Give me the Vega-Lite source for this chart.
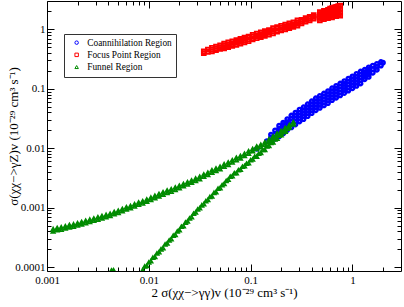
{
  "$schema": "https://vega.github.io/schema/vega-lite/v6.json",
  "width": 354,
  "height": 270,
  "autosize": {"type": "none"},
  "padding": {"left": 47, "top": 1, "right": 3, "bottom": 36},
  "background": "white",
  "config": {
    "view": {"stroke": "black", "strokeWidth": 1},
    "axis": {
      "domain": false,
      "grid": false,
      "labelFont": "Liberation Serif",
      "labelFontSize": 11,
      "labelColor": "black",
      "labelFlush": false,
      "labelOverlap": false,
      "labelBound": false,
      "tickColor": "black",
      "tickWidth": 1,
      "titleFont": "Liberation Serif",
      "titleFontSize": 13,
      "titleFontWeight": "normal",
      "titleColor": "black"
    },
    "legend": {
      "orient": "none",
      "legendX": 17,
      "legendY": 33,
      "title": null,
      "strokeColor": "#333333",
      "fillColor": "white",
      "padding": 4,
      "labelFont": "Liberation Serif",
      "labelFontSize": 9.3,
      "labelColor": "black",
      "symbolSize": 12,
      "symbolStrokeWidth": 1,
      "symbolOffset": 4,
      "labelOffset": 6,
      "rowPadding": 2.2
    }
  },
  "datasets": {
    "coann": [
      {"x":0.1445,"y":0.01318},
      {"x":0.1585,"y":0.01349},{"x":0.1585,"y":0.01514},{"x":0.1585,"y":0.01698},
      {"x":0.1738,"y":0.01445},{"x":0.1738,"y":0.01698},{"x":0.1738,"y":0.01995},
      {"x":0.1905,"y":0.01585},{"x":0.1905,"y":0.01738},{"x":0.1905,"y":0.0195},{"x":0.1905,"y":0.02138},{"x":0.1905,"y":0.02399},
      {"x":0.2089,"y":0.01778},{"x":0.2089,"y":0.01995},{"x":0.2089,"y":0.02188},{"x":0.2089,"y":0.02455},{"x":0.2089,"y":0.02692},
      {"x":0.2291,"y":0.02042},{"x":0.2291,"y":0.02239},{"x":0.2291,"y":0.02512},{"x":0.2291,"y":0.02754},{"x":0.2291,"y":0.0309},
      {"x":0.2512,"y":0.02239},{"x":0.2512,"y":0.02512},{"x":0.2512,"y":0.02818},{"x":0.2512,"y":0.03162},{"x":0.2512,"y":0.03548},
      {"x":0.2754,"y":0.02512},{"x":0.2754,"y":0.02818},{"x":0.2754,"y":0.03162},{"x":0.2754,"y":0.03548},{"x":0.2754,"y":0.03981},
      {"x":0.302,"y":0.02818},{"x":0.302,"y":0.03162},{"x":0.302,"y":0.03548},{"x":0.302,"y":0.03981},{"x":0.302,"y":0.04467},
      {"x":0.3311,"y":0.0309},{"x":0.3311,"y":0.03467},{"x":0.3311,"y":0.0389},{"x":0.3311,"y":0.04365},{"x":0.3311,"y":0.04898},
      {"x":0.3631,"y":0.03467},{"x":0.3631,"y":0.0389},{"x":0.3631,"y":0.04365},{"x":0.3631,"y":0.04898},{"x":0.3631,"y":0.05495},
      {"x":0.3981,"y":0.0389},{"x":0.3981,"y":0.04365},{"x":0.3981,"y":0.04898},{"x":0.3981,"y":0.05495},{"x":0.3981,"y":0.06166},
      {"x":0.4365,"y":0.04365},{"x":0.4365,"y":0.04898},{"x":0.4365,"y":0.05495},{"x":0.4365,"y":0.06166},{"x":0.4365,"y":0.06918},
      {"x":0.4786,"y":0.04786},{"x":0.4786,"y":0.0537},{"x":0.4786,"y":0.06026},{"x":0.4786,"y":0.06761},{"x":0.4786,"y":0.07586},
      {"x":0.5248,"y":0.05248},{"x":0.5248,"y":0.05888},{"x":0.5248,"y":0.06607},{"x":0.5248,"y":0.07413},{"x":0.5248,"y":0.08318},
      {"x":0.5754,"y":0.05754},{"x":0.5754,"y":0.06457},{"x":0.5754,"y":0.07244},{"x":0.5754,"y":0.08128},{"x":0.5754,"y":0.0912},
      {"x":0.631,"y":0.06457},{"x":0.631,"y":0.07244},{"x":0.631,"y":0.08128},{"x":0.631,"y":0.0912},{"x":0.631,"y":0.1023},
      {"x":0.6918,"y":0.07079},{"x":0.6918,"y":0.07943},{"x":0.6918,"y":0.08913},{"x":0.6918,"y":0.1},{"x":0.6918,"y":0.1122},
      {"x":0.7586,"y":0.07762},{"x":0.7586,"y":0.0871},{"x":0.7586,"y":0.09772},{"x":0.7586,"y":0.1096},{"x":0.7586,"y":0.123},
      {"x":0.8318,"y":0.08511},{"x":0.8318,"y":0.0955},{"x":0.8318,"y":0.1072},{"x":0.8318,"y":0.1202},{"x":0.8318,"y":0.1349},
      {"x":0.912,"y":0.09333},{"x":0.912,"y":0.1047},{"x":0.912,"y":0.1175},{"x":0.912,"y":0.1318},{"x":0.912,"y":0.1479},
      {"x":1.0,"y":0.1023},{"x":1.0,"y":0.1148},{"x":1.0,"y":0.1288},{"x":1.0,"y":0.1445},{"x":1.0,"y":0.1622},
      {"x":1.096,"y":0.1122},{"x":1.096,"y":0.1259},{"x":1.096,"y":0.1413},{"x":1.096,"y":0.1585},{"x":1.096,"y":0.1778},
      {"x":1.202,"y":0.123},{"x":1.202,"y":0.138},{"x":1.202,"y":0.1549},{"x":1.202,"y":0.1738},{"x":1.202,"y":0.195},
      {"x":1.318,"y":0.1445},{"x":1.318,"y":0.1585},{"x":1.318,"y":0.1738},{"x":1.318,"y":0.1905},{"x":1.318,"y":0.2089},
      {"x":1.445,"y":0.1585},{"x":1.445,"y":0.1738},{"x":1.445,"y":0.1905},{"x":1.445,"y":0.2089},{"x":1.445,"y":0.2291},
      {"x":1.585,"y":0.1862},{"x":1.585,"y":0.2138},{"x":1.585,"y":0.2455},
      {"x":1.738,"y":0.2089},{"x":1.738,"y":0.2344},{"x":1.738,"y":0.263},
      {"x":1.905,"y":0.2455},{"x":1.905,"y":0.2818},
      {"x":1.995,"y":0.2754},
      {"x":0.1153,"y":0.00982}
    ],
    "focus": [
      {"x":0.03467,"y":0.3981},{"x":0.03467,"y":0.4266},
      {"x":0.03802,"y":0.4169},{"x":0.03802,"y":0.4571},
      {"x":0.04169,"y":0.4266},{"x":0.04169,"y":0.4571},{"x":0.04169,"y":0.4898},
      {"x":0.04571,"y":0.4467},{"x":0.04571,"y":0.4786},{"x":0.04571,"y":0.5129},
      {"x":0.05012,"y":0.4677},{"x":0.05012,"y":0.5012},{"x":0.05012,"y":0.537},
      {"x":0.05495,"y":0.4786},{"x":0.05495,"y":0.5012},{"x":0.05495,"y":0.537},{"x":0.05495,"y":0.5754},
      {"x":0.06026,"y":0.5012},{"x":0.06026,"y":0.5248},{"x":0.06026,"y":0.5623},{"x":0.06026,"y":0.6026},
      {"x":0.06607,"y":0.5248},{"x":0.06607,"y":0.5623},{"x":0.06607,"y":0.5888},{"x":0.06607,"y":0.631},
      {"x":0.07244,"y":0.5495},{"x":0.07244,"y":0.5888},{"x":0.07244,"y":0.6166},{"x":0.07244,"y":0.6607},
      {"x":0.07943,"y":0.5754},{"x":0.07943,"y":0.6166},{"x":0.07943,"y":0.6457},{"x":0.07943,"y":0.6918},
      {"x":0.0871,"y":0.6026},{"x":0.0871,"y":0.6457},{"x":0.0871,"y":0.6918},{"x":0.0871,"y":0.7244},
      {"x":0.0955,"y":0.631},{"x":0.0955,"y":0.6761},{"x":0.0955,"y":0.7244},{"x":0.0955,"y":0.7586},
      {"x":0.1047,"y":0.6761},{"x":0.1047,"y":0.7079},{"x":0.1047,"y":0.7586},{"x":0.1047,"y":0.8128},
      {"x":0.1148,"y":0.7079},{"x":0.1148,"y":0.7586},{"x":0.1148,"y":0.7943},{"x":0.1148,"y":0.8511},
      {"x":0.1259,"y":0.7413},{"x":0.1259,"y":0.7943},{"x":0.1259,"y":0.8318},{"x":0.1259,"y":0.8913},
      {"x":0.138,"y":0.7762},{"x":0.138,"y":0.8318},{"x":0.138,"y":0.871},{"x":0.138,"y":0.9333},
      {"x":0.1514,"y":0.8128},{"x":0.1514,"y":0.871},{"x":0.1514,"y":0.9333},{"x":0.1514,"y":0.9772},
      {"x":0.166,"y":0.8511},{"x":0.166,"y":0.912},{"x":0.166,"y":0.9772},{"x":0.166,"y":1.047},
      {"x":0.182,"y":0.912},{"x":0.182,"y":0.955},{"x":0.182,"y":1.023},{"x":0.182,"y":1.096},
      {"x":0.1995,"y":0.955},{"x":0.1995,"y":1.0},{"x":0.1995,"y":1.072},{"x":0.1995,"y":1.148},
      {"x":0.2188,"y":1.0},{"x":0.2188,"y":1.072},{"x":0.2188,"y":1.122},{"x":0.2188,"y":1.202},
      {"x":0.2399,"y":1.047},{"x":0.2399,"y":1.122},{"x":0.2399,"y":1.175},{"x":0.2399,"y":1.259},
      {"x":0.263,"y":1.096},{"x":0.263,"y":1.175},{"x":0.263,"y":1.23},{"x":0.263,"y":1.318},
      {"x":0.2884,"y":1.148},{"x":0.2884,"y":1.23},{"x":0.2884,"y":1.318},{"x":0.2884,"y":1.413},
      {"x":0.3162,"y":1.259},{"x":0.3162,"y":1.349},{"x":0.3162,"y":1.445},
      {"x":0.3467,"y":1.349},{"x":0.3467,"y":1.445},{"x":0.3467,"y":1.549},
      {"x":0.3802,"y":1.413},{"x":0.3802,"y":1.514},{"x":0.3802,"y":1.622},
      {"x":0.4169,"y":1.514},{"x":0.4169,"y":1.622},{"x":0.4169,"y":1.738},
      {"x":0.4786,"y":1.413},{"x":0.4786,"y":1.585},{"x":0.4786,"y":1.778},{"x":0.4786,"y":1.95},
      {"x":0.5012,"y":1.514},{"x":0.5012,"y":1.698},{"x":0.5012,"y":1.905},
      {"x":0.5248,"y":1.479},{"x":0.5248,"y":1.66},{"x":0.5248,"y":1.862},{"x":0.5248,"y":2.042},
      {"x":0.5495,"y":1.585},{"x":0.5495,"y":1.778},{"x":0.5495,"y":1.995},
      {"x":0.5754,"y":1.549},{"x":0.5754,"y":1.738},{"x":0.5754,"y":1.95},{"x":0.5754,"y":2.138},
      {"x":0.6026,"y":1.622},{"x":0.6026,"y":1.82},{"x":0.6026,"y":2.042},{"x":0.6026,"y":2.239},
      {"x":0.631,"y":1.585},{"x":0.631,"y":1.778},{"x":0.631,"y":1.995},{"x":0.631,"y":2.291},
      {"x":0.6607,"y":1.698},{"x":0.6607,"y":1.905},{"x":0.6607,"y":2.138},{"x":0.6607,"y":2.344},
      {"x":0.6918,"y":1.66},{"x":0.6918,"y":1.862},{"x":0.6918,"y":2.089},{"x":0.6918,"y":2.399},
      {"x":0.7244,"y":1.778},{"x":0.7244,"y":1.995},{"x":0.7244,"y":2.239},{"x":0.7244,"y":2.455},
      {"x":0.7586,"y":1.698},{"x":0.7586,"y":1.905},{"x":0.7586,"y":2.188},{"x":0.7586,"y":2.512}
    ],
    "funnel": [
      {"x":0.001148,"y":0.0003981},{"x":0.001148,"y":0.0004365},
      {"x":0.001259,"y":0.0004169},{"x":0.001259,"y":0.0004571},
      {"x":0.00138,"y":0.0004266},{"x":0.00138,"y":0.0004677},
      {"x":0.001514,"y":0.0004467},{"x":0.001514,"y":0.0004898},
      {"x":0.00166,"y":0.0004677},{"x":0.00166,"y":0.0005129},
      {"x":0.00182,"y":0.0004786},{"x":0.00182,"y":0.0005248},
      {"x":0.001995,"y":0.0005012},{"x":0.001995,"y":0.0005495},
      {"x":0.002188,"y":0.0005248},{"x":0.002188,"y":0.0005754},
      {"x":0.002399,"y":0.0005495},{"x":0.002399,"y":0.0006026},
      {"x":0.00263,"y":0.0005754},{"x":0.00263,"y":0.000631},
      {"x":0.002884,"y":0.0006026},{"x":0.002884,"y":0.0006607},
      {"x":0.003162,"y":0.000631},{"x":0.003162,"y":0.0006918},
      {"x":0.003467,"y":0.0006607},{"x":0.003467,"y":0.0007244},
      {"x":0.003802,"y":0.0006918},{"x":0.003802,"y":0.0007586},
      {"x":0.004169,"y":0.0007244},{"x":0.004169,"y":0.0007943},
      {"x":0.004571,"y":0.0007762},{"x":0.004571,"y":0.0008511},
      {"x":0.005012,"y":0.0008128},{"x":0.005012,"y":0.0008913},
      {"x":0.005495,"y":0.000871},{"x":0.005495,"y":0.000955},
      {"x":0.006026,"y":0.0009333},{"x":0.006026,"y":0.001023},
      {"x":0.006607,"y":0.0009772},{"x":0.006607,"y":0.001072},
      {"x":0.007244,"y":0.001047},{"x":0.007244,"y":0.001148},
      {"x":0.007943,"y":0.001122},{"x":0.007943,"y":0.00123},
      {"x":0.00871,"y":0.001175},{"x":0.00871,"y":0.001288},
      {"x":0.00955,"y":0.001259},{"x":0.00955,"y":0.00138},
      {"x":0.01047,"y":0.001349},{"x":0.01047,"y":0.001479},
      {"x":0.01148,"y":0.001445},{"x":0.01148,"y":0.001585},
      {"x":0.01259,"y":0.001549},{"x":0.01259,"y":0.001698},
      {"x":0.0138,"y":0.00166},{"x":0.0138,"y":0.00182},
      {"x":0.01514,"y":0.001778},{"x":0.01514,"y":0.00195},
      {"x":0.0166,"y":0.001862},{"x":0.0166,"y":0.002042},
      {"x":0.0182,"y":0.001995},{"x":0.0182,"y":0.002188},
      {"x":0.01995,"y":0.002138},{"x":0.01995,"y":0.002344},
      {"x":0.02188,"y":0.002291},{"x":0.02188,"y":0.002512},
      {"x":0.02399,"y":0.002455},{"x":0.02399,"y":0.002692},
      {"x":0.0263,"y":0.00263},{"x":0.0263,"y":0.002884},
      {"x":0.02884,"y":0.002818},{"x":0.02884,"y":0.00309},
      {"x":0.03162,"y":0.00302},{"x":0.03162,"y":0.003311},
      {"x":0.03467,"y":0.003311},{"x":0.03467,"y":0.003631},
      {"x":0.03802,"y":0.003548},{"x":0.03802,"y":0.00389},
      {"x":0.04169,"y":0.00389},{"x":0.04169,"y":0.004266},
      {"x":0.04571,"y":0.004169},{"x":0.04571,"y":0.004571},
      {"x":0.05012,"y":0.004467},{"x":0.05012,"y":0.004898},
      {"x":0.05495,"y":0.004898},{"x":0.05495,"y":0.00537},
      {"x":0.06026,"y":0.005248},{"x":0.06026,"y":0.005754},
      {"x":0.06607,"y":0.005754},{"x":0.06607,"y":0.00631},
      {"x":0.07244,"y":0.00631},{"x":0.07244,"y":0.006918},
      {"x":0.07943,"y":0.006761},{"x":0.07943,"y":0.007413},
      {"x":0.0871,"y":0.007413},{"x":0.0871,"y":0.008128},
      {"x":0.0955,"y":0.008128},{"x":0.0955,"y":0.008913},
      {"x":0.1047,"y":0.008913},{"x":0.1047,"y":0.009772},
      {"x":0.1148,"y":0.009772},{"x":0.1148,"y":0.01072},
      {"x":0.1259,"y":0.01047},{"x":0.1259,"y":0.01148},
      {"x":0.138,"y":0.01148},{"x":0.138,"y":0.01259},
      {"x":0.1514,"y":0.01288},{"x":0.1514,"y":0.01413},
      {"x":0.166,"y":0.01445},{"x":0.166,"y":0.01585},
      {"x":0.182,"y":0.01622},{"x":0.182,"y":0.01778},
      {"x":0.1995,"y":0.01778},{"x":0.1995,"y":0.0195},
      {"x":0.2188,"y":0.01995},{"x":0.2188,"y":0.02188},
      {"x":0.2399,"y":0.02239},{"x":0.2399,"y":0.02455},
      {"x":0.263,"y":0.02512},{"x":0.263,"y":0.02754},
      {"x":0.00871,"y":0.00008913},{"x":0.00912,"y":0.0001023},{"x":0.00955,"y":0.0001047},{"x":0.01,"y":0.0001202},
      {"x":0.01047,"y":0.0001259},{"x":0.01096,"y":0.0001445},{"x":0.01148,"y":0.0001479},{"x":0.01202,"y":0.0001698},
      {"x":0.01259,"y":0.0001778},{"x":0.01318,"y":0.0001995},{"x":0.0138,"y":0.0002089},{"x":0.01445,"y":0.0002399},
      {"x":0.01514,"y":0.0002512},{"x":0.01585,"y":0.0002818},{"x":0.0166,"y":0.0002951},{"x":0.01738,"y":0.0003388},
      {"x":0.0182,"y":0.0003467},{"x":0.01905,"y":0.0003981},{"x":0.01995,"y":0.0004169},{"x":0.02089,"y":0.0004786},
      {"x":0.02188,"y":0.0004898},{"x":0.02291,"y":0.0005623},{"x":0.02399,"y":0.0005888},{"x":0.02512,"y":0.0006607},
      {"x":0.0263,"y":0.0006918},{"x":0.02754,"y":0.0007943},{"x":0.02884,"y":0.0008318},{"x":0.0302,"y":0.0009333},
      {"x":0.03162,"y":0.0009772},{"x":0.03311,"y":0.001096},{"x":0.03467,"y":0.001148},{"x":0.03631,"y":0.001288},
      {"x":0.03802,"y":0.001349},{"x":0.03981,"y":0.001514},{"x":0.04169,"y":0.001549},{"x":0.04365,"y":0.001778},
      {"x":0.04571,"y":0.00182},{"x":0.04786,"y":0.002089},{"x":0.05012,"y":0.002138},{"x":0.05248,"y":0.002399},
      {"x":0.05495,"y":0.002512},{"x":0.05754,"y":0.002818},{"x":0.06026,"y":0.002951},{"x":0.0631,"y":0.003311},
      {"x":0.06607,"y":0.003388},{"x":0.06918,"y":0.003802},{"x":0.07244,"y":0.003802},{"x":0.07586,"y":0.004266},
      {"x":0.07943,"y":0.004365},{"x":0.08318,"y":0.004898},{"x":0.0871,"y":0.005012},{"x":0.0912,"y":0.005495},
      {"x":0.0955,"y":0.005623},{"x":0.1,"y":0.00631},{"x":0.1047,"y":0.006457},{"x":0.1096,"y":0.007244},
      {"x":0.1148,"y":0.007244},{"x":0.1202,"y":0.008128},{"x":0.1259,"y":0.008318},{"x":0.1318,"y":0.009333},
      {"x":0.138,"y":0.009333},{"x":0.1445,"y":0.01072},{"x":0.1514,"y":0.01096},{"x":0.1585,"y":0.0123},
      {"x":0.166,"y":0.01259},{"x":0.1738,"y":0.01413},{"x":0.182,"y":0.01445},{"x":0.1905,"y":0.01622},
      {"x":0.1995,"y":0.0166},{"x":0.2089,"y":0.01862},{"x":0.2188,"y":0.01905},{"x":0.2291,"y":0.02138},
      {"x":0.0043,"y":0.000088},{"x":0.0045,"y":0.000089}
    ]
  },
  "layer": [
    {
      "data": {"name": "coann"},
      "mark": {"type": "point", "filled": false, "size": 12, "strokeWidth": 2.4, "opacity": 1, "clip": true},
      "encoding": {
        "x": {
          "field": "x", "type": "quantitative",
          "scale": {"type": "log", "domain": [0.001, 3], "nice": false},
          "axis": {
            "orient": "bottom",
            "values": [0.001,0.002,0.003,0.004,0.005,0.006,0.007,0.008,0.009,0.01,0.02,0.03,0.04,0.05,0.06,0.07,0.08,0.09,0.1,0.2,0.3,0.4,0.5,0.6,0.7,0.8,0.9,1,2],
            "labelExpr": "datum.value==0.001?'0.001':datum.value==0.01?'0.01':datum.value==0.1?'0.1':datum.value==1?'1':''",
            "tickSize": {"condition": {"test": "datum.value==0.001||datum.value==0.01||datum.value==0.1||datum.value==1", "value": -7}, "value": -4},
            "labelPadding": 10,
            "title": "2 σ(χχ−>γγ)v (10⁻²⁹ cm³ s⁻¹)",
            "titleX": 177,
            "titleY": 15.5,
            "titleBaseline": "top"
          }
        },
        "y": {
          "field": "y", "type": "quantitative",
          "scale": {"type": "log", "domain": [0.000086, 3], "nice": false},
          "axis": {
            "orient": "left",
            "values": [0.0001,0.0002,0.0003,0.0004,0.0005,0.0006,0.0007,0.0008,0.0009,0.001,0.002,0.003,0.004,0.005,0.006,0.007,0.008,0.009,0.01,0.02,0.03,0.04,0.05,0.06,0.07,0.08,0.09,0.1,0.2,0.3,0.4,0.5,0.6,0.7,0.8,0.9,1,2],
            "labelExpr": "datum.value==0.0001?'0.0001':datum.value==0.001?'0.001':datum.value==0.01?'0.01':datum.value==0.1?'0.1':datum.value==1?'1':''",
            "tickSize": {"condition": {"test": "datum.value==0.0001||datum.value==0.001||datum.value==0.01||datum.value==0.1||datum.value==1", "value": -7}, "value": -4},
            "labelPadding": 9,
            "title": "σ(χχ−>γZ)v (10⁻²⁹ cm³ s⁻¹)",
            "titleX": -27,
            "titleY": 135
          }
        },
        "color": {
          "datum": "Coannihilation Region",
          "scale": {"domain": ["Coannihilation Region", "Focus Point Region", "Funnel Region"], "range": ["#0000ff", "#ff0000", "#008b00"]},
          "legend": {"symbolStrokeWidth": 1, "encode": {"symbols": {"enter": {"strokeWidth": {"value": 1}}, "update": {"strokeWidth": {"value": 1}}}}}
        },
        "shape": {
          "datum": "Coannihilation Region",
          "scale": {"domain": ["Coannihilation Region", "Focus Point Region", "Funnel Region"], "range": ["circle", "square", "triangle-up"]},
          "legend": {"symbolStrokeWidth": 1, "encode": {"symbols": {"enter": {"strokeWidth": {"value": 1}}, "update": {"strokeWidth": {"value": 1}}}}}
        }
      }
    },
    {
      "data": {"name": "focus"},
      "mark": {"type": "point", "filled": false, "size": 14, "strokeWidth": 1.9, "opacity": 1, "clip": true},
      "encoding": {
        "x": {"field": "x", "type": "quantitative", "axis": null},
        "y": {"field": "y", "type": "quantitative", "axis": null},
        "color": {"datum": "Focus Point Region"},
        "shape": {"datum": "Focus Point Region"}
      }
    },
    {
      "data": {"name": "funnel"},
      "mark": {"type": "point", "filled": false, "size": 12, "strokeWidth": 1.7, "opacity": 1, "clip": true},
      "encoding": {
        "x": {
          "field": "x", "type": "quantitative",
          "axis": {
            "orient": "top",
            "values": [0.001,0.002,0.003,0.004,0.005,0.006,0.007,0.008,0.009,0.01,0.02,0.03,0.04,0.05,0.06,0.07,0.08,0.09,0.1,0.2,0.3,0.4,0.5,0.6,0.7,0.8,0.9,1,2],
            "labels": false,
            "title": null,
            "tickSize": {"condition": {"test": "datum.value==0.001||datum.value==0.01||datum.value==0.1||datum.value==1", "value": -7}, "value": -4}
          }
        },
        "y": {
          "field": "y", "type": "quantitative",
          "axis": {
            "orient": "right",
            "values": [0.0001,0.0002,0.0003,0.0004,0.0005,0.0006,0.0007,0.0008,0.0009,0.001,0.002,0.003,0.004,0.005,0.006,0.007,0.008,0.009,0.01,0.02,0.03,0.04,0.05,0.06,0.07,0.08,0.09,0.1,0.2,0.3,0.4,0.5,0.6,0.7,0.8,0.9,1,2],
            "labels": false,
            "title": null,
            "tickSize": {"condition": {"test": "datum.value==0.0001||datum.value==0.001||datum.value==0.01||datum.value==0.1||datum.value==1", "value": -7}, "value": -4}
          }
        },
        "color": {"datum": "Funnel Region"},
        "shape": {"datum": "Funnel Region"}
      }
    }
  ],
  "resolve": {"axis": {"x": "independent", "y": "independent"}}
}
